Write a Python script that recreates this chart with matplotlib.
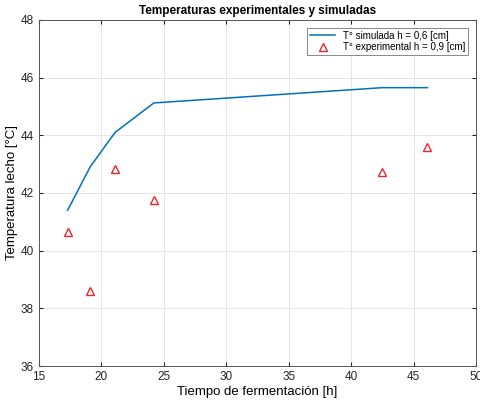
import matplotlib.pyplot as plt
import numpy as np

plt.rcParams['font.family'] = ['Liberation Sans', 'DejaVu Sans']

# Tiempo de fermentación [h] y temperaturas [°C]
t_sim = [17.3, 19.1, 21.1, 24.2, 42.5, 46.1]
T_sim = [41.4, 42.9, 44.1, 45.12, 45.65, 45.65]
t_exp = [17.3, 19.1, 21.1, 24.2, 42.5, 46.1]
T_exp = [40.65, 38.6, 42.83, 41.75, 42.72, 43.6]

fig = plt.figure(figsize=(4.8, 4.05), dpi=100)
ax = fig.add_axes([0.081, 0.096, 0.911, 0.855])

ax.plot(t_sim, T_sim, color='#0072BD', linewidth=1.1, label='T° simulada h = 0,6 [cm]')
ax.plot(t_exp, T_exp, linestyle='none', marker='^', markersize=6,
        markerfacecolor='none', markeredgecolor='#E8262B', markeredgewidth=1.0,
        label='T° experimental h = 0,9 [cm]')

ax.set_xlim(15, 50)
ax.set_ylim(36, 48)
ax.set_xticks(np.arange(15, 51, 5))
ax.set_yticks(np.arange(36, 49, 2))
ax.grid(True, color='#E6E6E6', linewidth=0.7)
ax.set_axisbelow(True)
ax.tick_params(direction='in', length=3, labelsize=8.5, colors='#262626', top=True, right=True)
for s in ax.spines.values():
    s.set_color('#555555')
    s.set_linewidth(0.7)

ax.set_title('Temperaturas experimentales y simuladas', fontsize=8.5, fontweight='bold', pad=4)
ax.set_xlabel('Tiempo de fermentación [h]', fontsize=9.5, labelpad=2)
ax.set_ylabel('Temperatura lecho [°C]', fontsize=9.5, labelpad=2)

leg = ax.legend(loc='upper right', fontsize=7, frameon=True, fancybox=False,
                edgecolor='#888888', framealpha=1, borderpad=0.3, numpoints=1,
                handlelength=2.6, handletextpad=0.8, labelspacing=0.2,
                borderaxespad=0.8)
leg.get_frame().set_linewidth(0.7)

fig.savefig('out.png', dpi=100)
